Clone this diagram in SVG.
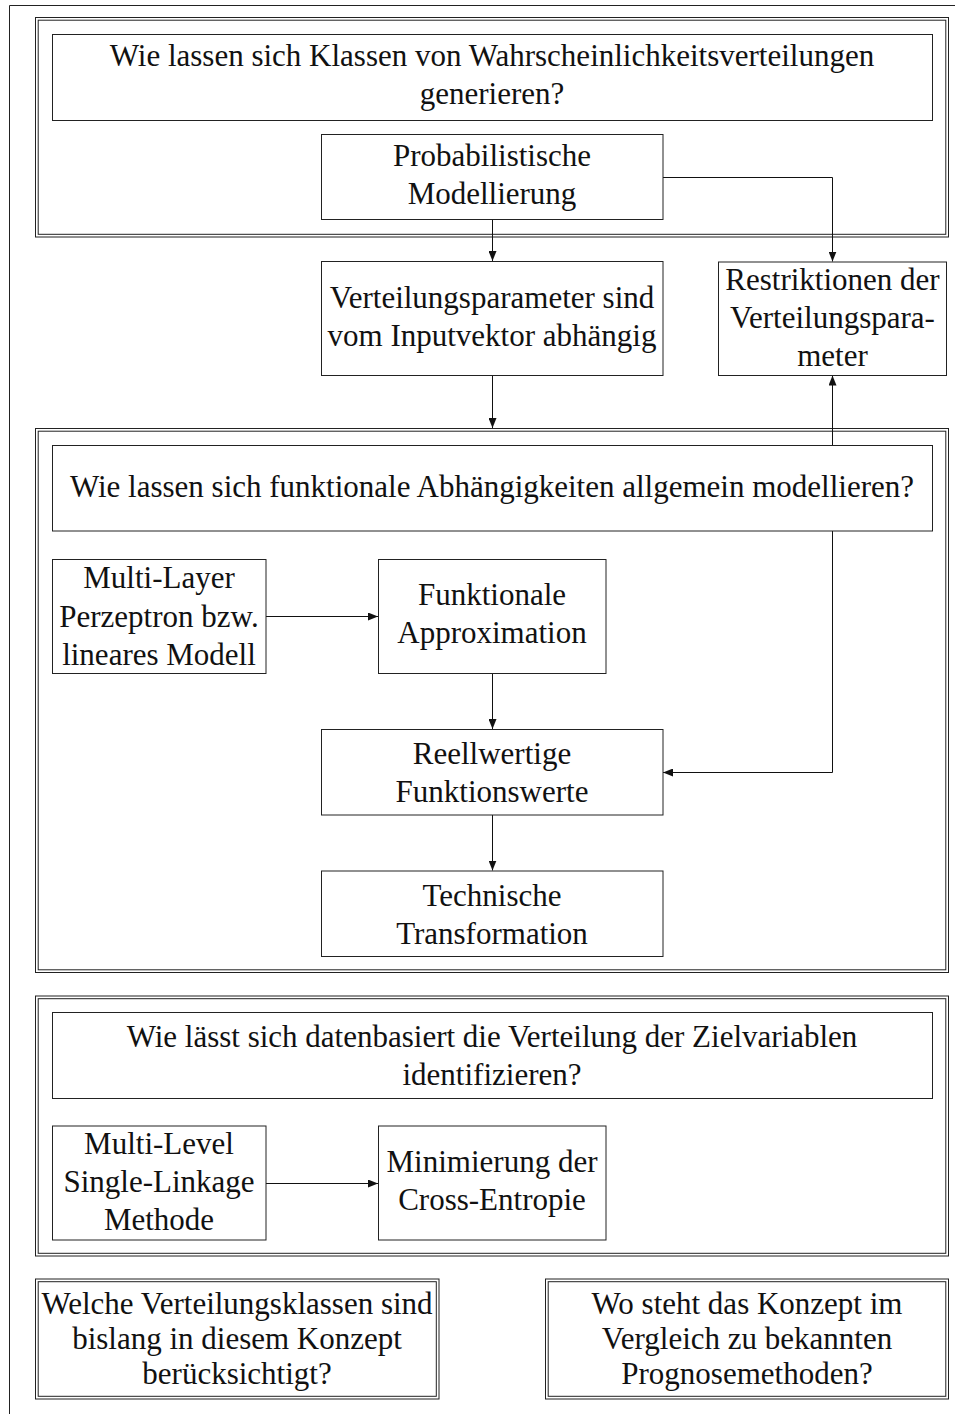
<svg xmlns="http://www.w3.org/2000/svg" width="961" height="1418" viewBox="0 0 961 1418">
<style>
  .frame { fill: none; stroke: #222; stroke-width: 1; }
  .box { fill: #fff; stroke: #222; stroke-width: 1; }
  .conn { fill: none; stroke: #111; stroke-width: 1; }
  text { font-family: "Liberation Serif", "DejaVu Serif", serif; font-size: 31px; fill: #111; text-anchor: middle; }
</style>
<defs>
  <marker id="arr" viewBox="0 0 10 8" refX="10" refY="4" markerWidth="10" markerHeight="8" markerUnits="userSpaceOnUse" orient="auto">
    <path d="M0,0 L10,4 L0,8 Z" fill="#111"/>
  </marker>
</defs>
<rect width="961" height="1418" fill="#fff"/>
<!-- page border -->
<path class="frame" d="M9.5,1414 V5.5 H955"/>

<!-- frames -->
<g id="frame1">
  <rect class="frame" x="35.5" y="17.5" width="913" height="219.5"/>
  <rect class="frame" x="38.2" y="20.2" width="907.6" height="214.1"/>
</g>
<g id="frame2">
  <rect class="frame" x="35.5" y="428.5" width="913" height="544"/>
  <rect class="frame" x="38.2" y="431.2" width="907.6" height="538.6"/>
</g>
<g id="frame3">
  <rect class="frame" x="35.5" y="996" width="913" height="260"/>
  <rect class="frame" x="38.2" y="998.7" width="907.6" height="254.6"/>
</g>

<!-- connectors -->
<g id="connectors">
  <path class="conn" d="M492.5,219.5 V261" marker-end="url(#arr)"/>
  <path class="conn" d="M663,177.5 H832.5 V261.5" marker-end="url(#arr)"/>
  <path class="conn" d="M492.5,375.5 V428" marker-end="url(#arr)"/>
  <path class="conn" d="M832.5,772.5 V375.5" marker-end="url(#arr)"/>
  <path class="conn" d="M832.5,772.5 H663" marker-end="url(#arr)"/>
  <path class="conn" d="M266,616.5 H378" marker-end="url(#arr)"/>
  <path class="conn" d="M492.5,673.5 V729" marker-end="url(#arr)"/>
  <path class="conn" d="M492.5,815 V870.5" marker-end="url(#arr)"/>
  <path class="conn" d="M266,1183.5 H378" marker-end="url(#arr)"/>
</g>

<g id="q1">
  <rect class="box" x="52.5" y="34.5" width="880" height="86"/>
  <text x="492" y="66">Wie lassen sich Klassen von Wahrscheinlichkeitsverteilungen</text>
  <text x="492" y="104">generieren?</text>
</g>
<g id="probmod">
  <rect class="box" x="321.5" y="134.5" width="341.5" height="85"/>
  <text x="492" y="166">Probabilistische</text>
  <text x="492" y="204">Modellierung</text>
</g>
<g id="vparam">
  <rect class="box" x="321.5" y="261.5" width="341.5" height="114"/>
  <text x="492" y="308">Verteilungsparameter sind</text>
  <text x="492" y="346">vom Inputvektor abhängig</text>
</g>
<g id="restr">
  <rect class="box" x="718.5" y="262" width="228" height="113.5"/>
  <text x="832.5" y="290">Restriktionen der</text>
  <text x="832.5" y="328">Verteilungspara-</text>
  <text x="832.5" y="366">meter</text>
</g>
<g id="q2">
  <rect class="box" x="52.5" y="445.5" width="880" height="85.5"/>
  <text x="492" y="497">Wie lassen sich funktionale Abhängigkeiten allgemein modellieren?</text>
</g>
<g id="mlp">
  <rect class="box" x="52.5" y="559.5" width="213.5" height="114"/>
  <text x="159" y="588">Multi-Layer</text>
  <text x="159" y="626.5">Perzeptron bzw.</text>
  <text x="159" y="664.5">lineares Modell</text>
</g>
<g id="funkapprox">
  <rect class="box" x="378.5" y="559.5" width="227.5" height="114"/>
  <text x="492" y="605">Funktionale</text>
  <text x="492" y="643">Approximation</text>
</g>
<g id="reell">
  <rect class="box" x="321.5" y="729.5" width="341.5" height="85.5"/>
  <text x="492" y="763.5">Reellwertige</text>
  <text x="492" y="801.5">Funktionswerte</text>
</g>
<g id="techtrans">
  <rect class="box" x="321.5" y="871" width="341.5" height="85.5"/>
  <text x="492" y="905.5">Technische</text>
  <text x="492" y="943.5">Transformation</text>
</g>
<g id="q3">
  <rect class="box" x="52.5" y="1012.5" width="880" height="86"/>
  <text x="492" y="1047">Wie lässt sich datenbasiert die Verteilung der Zielvariablen</text>
  <text x="492" y="1085">identifizieren?</text>
</g>
<g id="mlsl">
  <rect class="box" x="52.5" y="1126" width="213.5" height="114"/>
  <text x="159" y="1154">Multi-Level</text>
  <text x="159" y="1192">Single-Linkage</text>
  <text x="159" y="1230">Methode</text>
</g>
<g id="crossent">
  <rect class="box" x="378.5" y="1126" width="227.5" height="114"/>
  <text x="492" y="1172">Minimierung der</text>
  <text x="492" y="1210">Cross-Entropie</text>
</g>
<g id="q4">
  <rect class="frame" x="35.5" y="1279" width="403.5" height="120"/>
  <rect class="frame" x="38.2" y="1281.7" width="398.1" height="114.6"/>
  <text x="237" y="1314">Welche Verteilungsklassen sind</text>
  <text x="237" y="1349">bislang in diesem Konzept</text>
  <text x="237" y="1384">berücksichtigt?</text>
</g>
<g id="q5">
  <rect class="frame" x="545.5" y="1279" width="403" height="120"/>
  <rect class="frame" x="548.2" y="1281.7" width="397.6" height="114.6"/>
  <text x="747" y="1314">Wo steht das Konzept im</text>
  <text x="747" y="1349">Vergleich zu bekannten</text>
  <text x="747" y="1384">Prognosemethoden?</text>
</g>
</svg>
